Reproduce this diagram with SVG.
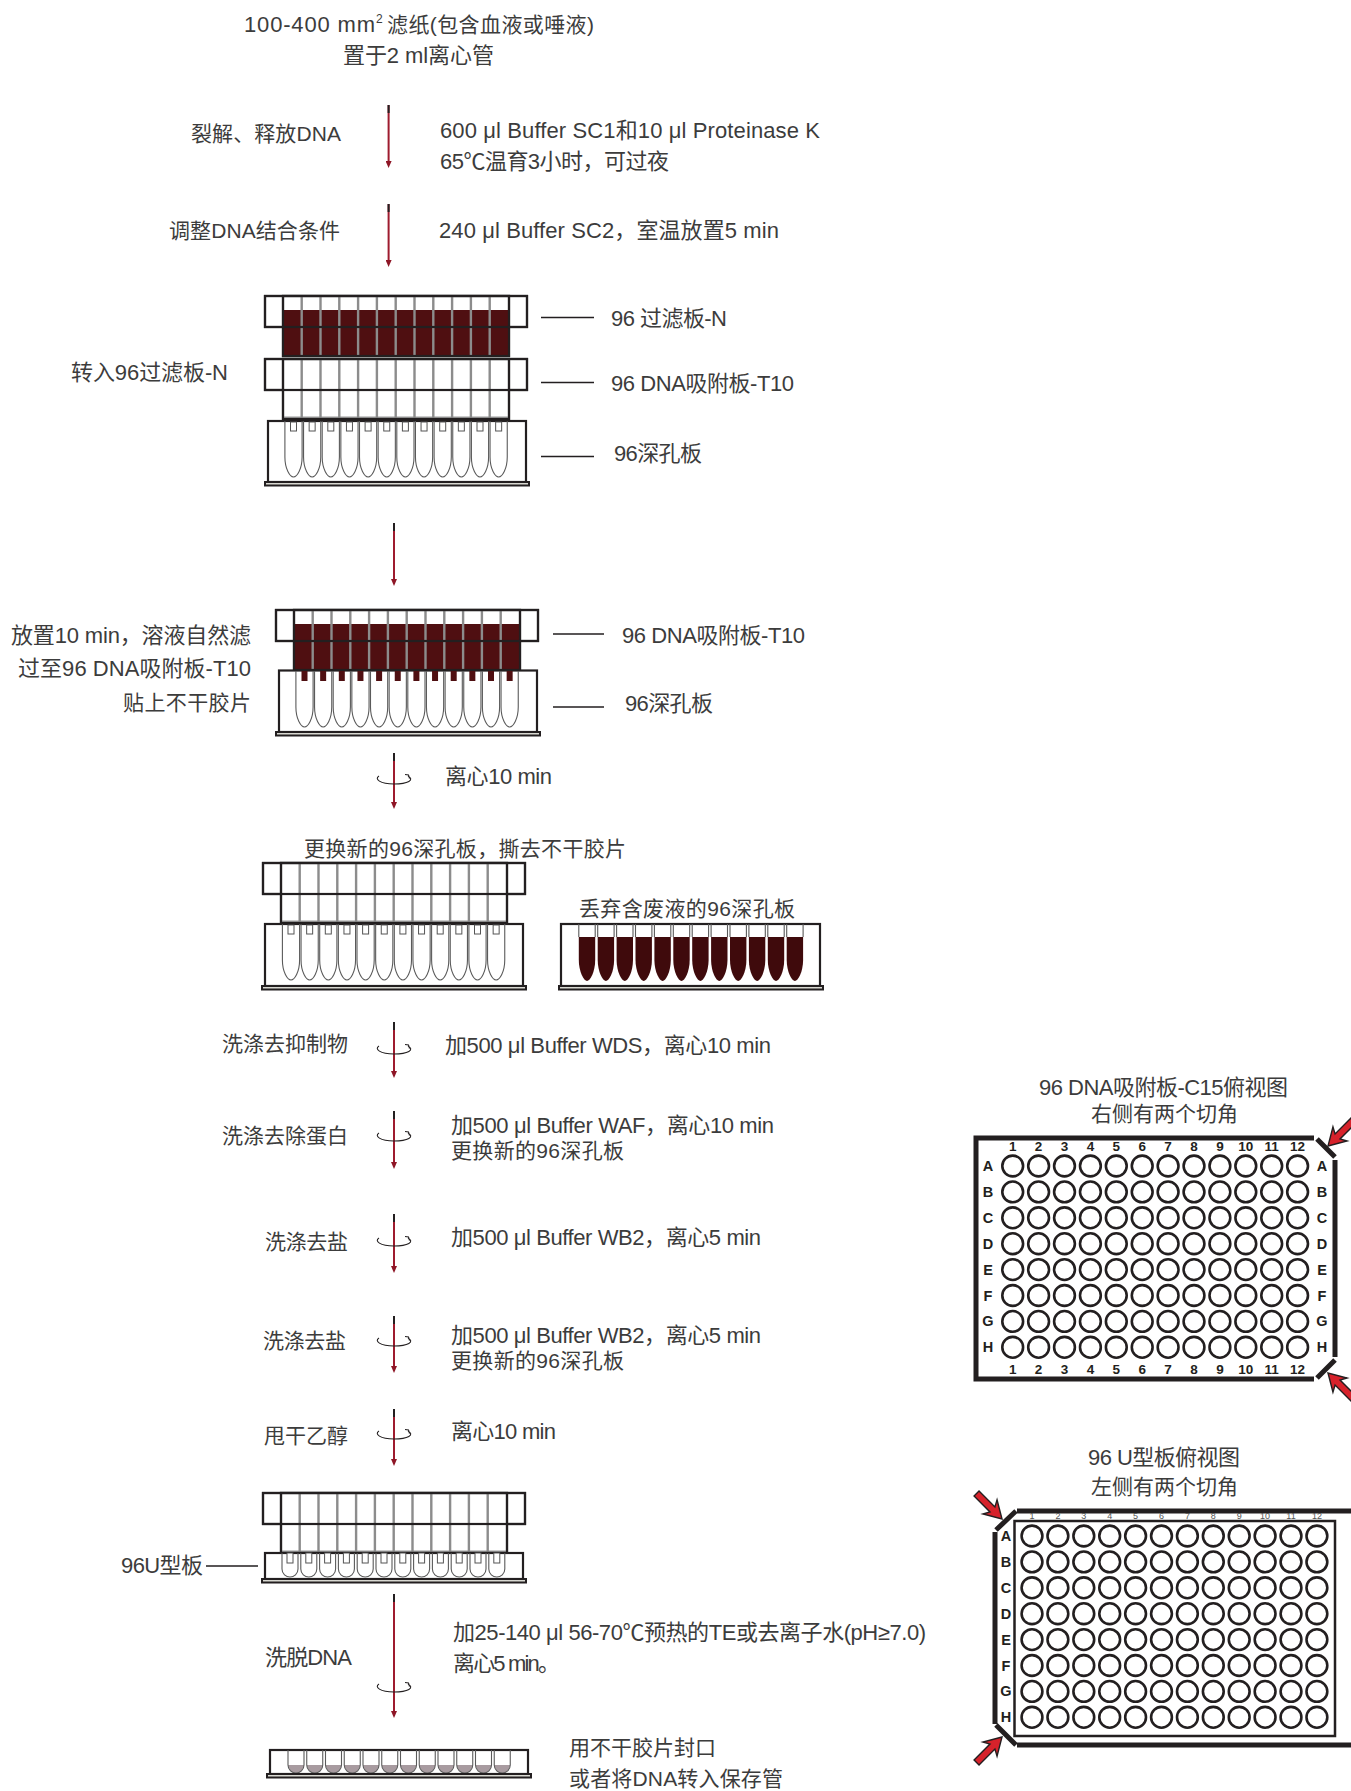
<svg xmlns="http://www.w3.org/2000/svg" width="1351" height="1791" viewBox="0 0 1351 1791">
<style>
text{font-family:"Liberation Sans","Noto Sans CJK SC",sans-serif;font-size:21px;fill:#3c3c3c}
.L{font-size:22px}
.o{fill:#fff;stroke:#231f20;stroke-width:2.2}
.n{fill:none;stroke:#231f20;stroke-width:2.2}
.b{fill:#d9d9d2;stroke:#231f20;stroke-width:2}
.d{fill:none;stroke:#8c8c8c;stroke-width:2.4}
.g{fill:none;stroke:#5a5a5a;stroke-width:1.1}
.tip{fill:#fff;stroke:#555;stroke-width:1}
.dk{fill:#4f0f11}
.flow{stroke:#9e1b2e;stroke-width:2;fill:none}
.top{stroke:#231f20;stroke-width:2;fill:none}
.lead{stroke:#231f20;stroke-width:1.4;fill:none}
.w{fill:#fff;stroke:#231f20;stroke-width:2.6}
.bd{fill:none;stroke:#231f20;stroke-width:5}
.num{font-weight:bold;font-size:13.5px;fill:#231f20;text-anchor:middle}
.let{font-weight:bold;font-size:14.5px;fill:#231f20;text-anchor:middle}
.sm{font-size:9px;fill:#555;text-anchor:middle}
.red{fill:#d7222b;stroke:#231f20;stroke-width:1.4}
</style>
<defs>
<marker id="ah" markerUnits="userSpaceOnUse" markerWidth="6" markerHeight="7" refX="3" refY="0" orient="0" viewBox="0 0 6 7"><path d="M0 0H6L3 7z" fill="#8e1626"/></marker>
<g id="divs"><path class="d" d="M36.7 0V60M55.5 0V60M74.3 0V60M93.1 0V60M111.9 0V60M130.7 0V60M149.5 0V60M168.3 0V60M187.1 0V60M205.9 0V60M224.7 0V60"/></g>
<g id="plate"><rect class="o" x="0" y="0" width="262" height="31"/><rect class="o" x="18" y="0" width="226" height="60"/><rect x="18" y="57.5" width="226" height="2.5" fill="#9a9a9a"/><use href="#divs"/><path class="n" d="M18 31H244"/><rect class="n" x="18" y="0" width="226" height="60"/><rect class="n" x="0" y="0" width="262" height="31"/></g>
<g id="plateD"><rect class="o" x="0" y="0" width="262" height="31"/><rect class="o" x="18" y="0" width="226" height="60"/><rect class="dk" x="18" y="14" width="226" height="46"/><use href="#divs"/><path class="n" d="M18 31H244"/><rect class="n" x="18" y="0" width="226" height="60"/><rect class="n" x="0" y="0" width="262" height="31"/></g>
<path id="t" class="g" d="M-8.6 0V36C-8.6 48 -3.5 56 0 56C3.5 56 8.6 48 8.6 36V0"/>
<g id="tT"><use href="#t"/><rect class="tip" x="-3" y="1" width="6" height="9"/></g>
<g id="tD"><use href="#t"/><rect class="dk" x="-3" y="0" width="6" height="10"/></g>
<g id="tF"><path d="M-8.2 13V36C-8.2 48 -3 57 0 57C3 57 8.2 48 8.2 36V13z" fill="#3f0a0c"/><path class="g" d="M-8.2 0V13M8.2 0V13"/></g>
<g id="tU"><path class="g" d="M-8 0V16C-8 21 -4 24 0 24C4 24 8 21 8 16V0"/><rect class="tip" x="-3" y="0" width="6" height="10"/></g>
<g id="tL"><path d="M-8 15C-7 20 -4 23 0 23C4 23 7 20 8 15z" fill="#a89ba0"/><path class="g" d="M-8 0V15C-8 20 -4 23 0 23C4 23 8 20 8 15V0"/></g>
<path id="spin" d="M-15 -4C-20 -1 -14 4 0 4C14 4 21 0 14 -4M11 -5.5L14.5 -5L15.5 -1.5" fill="none" stroke="#231f20" stroke-width="1.1"/>
<g id="row12"><circle class="w" cx="0" cy="0" r="10.4"/><circle class="w" cx="25.9" cy="0" r="10.4"/><circle class="w" cx="51.8" cy="0" r="10.4"/><circle class="w" cx="77.7" cy="0" r="10.4"/><circle class="w" cx="103.6" cy="0" r="10.4"/><circle class="w" cx="129.5" cy="0" r="10.4"/><circle class="w" cx="155.4" cy="0" r="10.4"/><circle class="w" cx="181.3" cy="0" r="10.4"/><circle class="w" cx="207.2" cy="0" r="10.4"/><circle class="w" cx="233.1" cy="0" r="10.4"/><circle class="w" cx="259" cy="0" r="10.4"/><circle class="w" cx="284.9" cy="0" r="10.4"/></g>
<g id="grid"><use href="#row12" y="0"/><use href="#row12" y="25.9"/><use href="#row12" y="51.8"/><use href="#row12" y="77.7"/><use href="#row12" y="103.6"/><use href="#row12" y="129.5"/><use href="#row12" y="155.4"/><use href="#row12" y="181.3"/></g>
<g id="nums"><text class="num" x="0">1</text><text class="num" x="25.9">2</text><text class="num" x="51.8">3</text><text class="num" x="77.7">4</text><text class="num" x="103.6">5</text><text class="num" x="129.5">6</text><text class="num" x="155.4">7</text><text class="num" x="181.3">8</text><text class="num" x="207.2">9</text><text class="num" x="233.1">10</text><text class="num" x="259">11</text><text class="num" x="284.9">12</text></g>
<g id="lets"><text class="let" y="0">A</text><text class="let" y="25.9">B</text><text class="let" y="51.8">C</text><text class="let" y="77.7">D</text><text class="let" y="103.6">E</text><text class="let" y="129.5">F</text><text class="let" y="155.4">G</text><text class="let" y="181.3">H</text></g>
<path id="ra" class="red" d="M0 0L-17 -10L-13.5 -3.5L-36 -3.5L-36 3.5L-13.5 3.5L-17 10z"/>
</defs>

<g id="connectors">
<path class="flow" marker-end="url(#ah)" d="M388.6 105V161"/>
<path class="flow" marker-end="url(#ah)" d="M388.6 204V260"/>
<path class="flow" marker-end="url(#ah)" d="M394 523V579"/>
<path class="flow" marker-end="url(#ah)" d="M394 753V802"/>
<path class="flow" marker-end="url(#ah)" d="M394 1022V1071"/>
<path class="flow" marker-end="url(#ah)" d="M394 1111V1162"/>
<path class="flow" marker-end="url(#ah)" d="M394 1214V1266"/>
<path class="flow" marker-end="url(#ah)" d="M394 1316V1366"/>
<path class="flow" marker-end="url(#ah)" d="M394 1409V1459"/>
<path class="flow" marker-end="url(#ah)" d="M394 1594V1711"/>
<path class="top" d="M388.6 105V113M388.6 204V212M394 523V531M394 753V761M394 1022V1030M394 1111V1119M394 1214V1222M394 1316V1324M394 1409V1417M394 1594V1602"/>
<use href="#spin" x="394" y="780"/>
<use href="#spin" x="394" y="1050"/>
<use href="#spin" x="394" y="1137"/>
<use href="#spin" x="394" y="1242"/>
<use href="#spin" x="394" y="1342"/>
<use href="#spin" x="394" y="1435"/>
<use href="#spin" x="394" y="1688"/>
<path class="lead" d="M541 317.5H594M541 382.5H594M541 456.5H594M553 634H604M553 707H604M206 1566H258"/>
</g>

<g id="step-sample">
<text class="L" x="244" y="32" textLength="131">100-400 mm</text><text x="376" y="23" style="font-size:12px">2</text><text x="387" y="32" textLength="207">滤纸(包含血液或唾液)</text>
<text class="L" x="343" y="63" textLength="151">置于2 ml离心管</text>
</g>
<g id="step-lysis">
<text x="191" y="141" textLength="150">裂解、释放DNA</text>
<text class="L" x="440" y="137.5" textLength="380">600 μl Buffer SC1和10 μl Proteinase K</text>
<text class="L" x="440" y="169" textLength="229">65℃温育3小时，可过夜</text>
</g>
<g id="step-bind">
<text x="169" y="238" textLength="171">调整DNA结合条件</text>
<text class="L" x="439" y="238" textLength="340">240 μl Buffer SC2，室温放置5 min</text>
</g>

<g id="assembly-1">
<use href="#plateD" x="265" y="296"/>
<use href="#plate" x="265" y="359"/>
<rect class="o" x="268" y="421" width="258" height="61"/>
<g transform="translate(293.5 421)"><use href="#tT" x="0"/><use href="#tT" x="18.65"/><use href="#tT" x="37.3"/><use href="#tT" x="55.95"/><use href="#tT" x="74.6"/><use href="#tT" x="93.25"/><use href="#tT" x="111.9"/><use href="#tT" x="130.55"/><use href="#tT" x="149.2"/><use href="#tT" x="167.85"/><use href="#tT" x="186.5"/><use href="#tT" x="205.15"/></g>
<rect class="b" x="265" y="482" width="264" height="3.5"/>
<text class="L" x="71" y="380" textLength="157">转入96过滤板-N</text>
<text class="L" x="611" y="326" textLength="116">96 过滤板-N</text>
<text class="L" x="611" y="391" textLength="183">96 DNA吸附板-T10</text>
<text class="L" x="614" y="461" textLength="88">96深孔板</text>
</g>

<g id="assembly-2">
<use href="#plateD" x="276" y="610"/>
<rect class="o" x="279" y="670.5" width="258" height="61.5"/>
<g transform="translate(304.5 671)"><use href="#tD" x="0"/><use href="#tD" x="18.65"/><use href="#tD" x="37.3"/><use href="#tD" x="55.95"/><use href="#tD" x="74.6"/><use href="#tD" x="93.25"/><use href="#tD" x="111.9"/><use href="#tD" x="130.55"/><use href="#tD" x="149.2"/><use href="#tD" x="167.85"/><use href="#tD" x="186.5"/><use href="#tD" x="205.15"/></g>
<rect class="b" x="276" y="732" width="264" height="3.5"/>
<text class="L" x="11" y="643" textLength="240">放置10 min，溶液自然滤</text>
<text class="L" x="18" y="676" textLength="233">过至96 DNA吸附板-T10</text>
<text x="123" y="710" textLength="128">贴上不干胶片</text>
<text class="L" x="622" y="643" textLength="183">96 DNA吸附板-T10</text>
<text class="L" x="625" y="711" textLength="88">96深孔板</text>
<text class="L" x="445" y="784" textLength="107">离心10 min</text>
</g>

<g id="assembly-3">
<text x="304" y="856" textLength="322">更换新的96深孔板，撕去不干胶片</text>
<use href="#plate" x="263" y="863"/>
<rect class="o" x="265" y="924" width="258" height="62"/>
<g transform="translate(291 924)"><use href="#tT" x="0"/><use href="#tT" x="18.65"/><use href="#tT" x="37.3"/><use href="#tT" x="55.95"/><use href="#tT" x="74.6"/><use href="#tT" x="93.25"/><use href="#tT" x="111.9"/><use href="#tT" x="130.55"/><use href="#tT" x="149.2"/><use href="#tT" x="167.85"/><use href="#tT" x="186.5"/><use href="#tT" x="205.15"/></g>
<rect class="b" x="262" y="986" width="264" height="3.5"/>
</g>
<g id="waste-plate">
<text x="579" y="916" textLength="216">丢弃含废液的96深孔板</text>
<rect class="o" x="561" y="924" width="259" height="62"/>
<g transform="translate(587 924)"><use href="#tF" x="0"/><use href="#tF" x="18.9"/><use href="#tF" x="37.8"/><use href="#tF" x="56.7"/><use href="#tF" x="75.6"/><use href="#tF" x="94.5"/><use href="#tF" x="113.4"/><use href="#tF" x="132.3"/><use href="#tF" x="151.2"/><use href="#tF" x="170.1"/><use href="#tF" x="189"/><use href="#tF" x="207.9"/></g>
<rect class="b" x="559" y="986" width="264" height="3.5"/>
</g>

<g id="step-wash">
<text x="222" y="1051" textLength="126">洗涤去抑制物</text>
<text class="L" x="445" y="1053" textLength="326">加500 μl Buffer WDS，离心10 min</text>
<text x="222" y="1143" textLength="126">洗涤去除蛋白</text>
<text class="L" x="451" y="1133" textLength="323">加500 μl Buffer WAF，离心10 min</text>
<text x="451" y="1158" textLength="173">更换新的96深孔板</text>
<text x="265" y="1249" textLength="83">洗涤去盐</text>
<text class="L" x="451" y="1245" textLength="310">加500 μl Buffer WB2，离心5 min</text>
<text x="263" y="1348" textLength="83">洗涤去盐</text>
<text class="L" x="451" y="1343" textLength="310">加500 μl Buffer WB2，离心5 min</text>
<text x="451" y="1368" textLength="173">更换新的96深孔板</text>
<text x="264" y="1443" textLength="84">甩干乙醇</text>
<text class="L" x="451" y="1439" textLength="105">离心10 min</text>
</g>

<g id="assembly-4">
<use href="#plate" x="263" y="1493"/>
<rect class="o" x="265" y="1553" width="258" height="26"/>
<g transform="translate(290 1553)"><use href="#tU" x="0"/><use href="#tU" x="18.8"/><use href="#tU" x="37.6"/><use href="#tU" x="56.4"/><use href="#tU" x="75.2"/><use href="#tU" x="94"/><use href="#tU" x="112.8"/><use href="#tU" x="131.6"/><use href="#tU" x="150.4"/><use href="#tU" x="169.2"/><use href="#tU" x="188"/><use href="#tU" x="206.8"/></g>
<rect class="b" x="262" y="1579" width="264" height="3.5"/>
<text class="L" x="121" y="1573" textLength="82">96U型板</text>
<text class="L" x="265" y="1665" textLength="87">洗脱DNA</text>
<text class="L" x="453" y="1640" textLength="473">加25-140 μl 56-70℃预热的TE或去离子水(pH≥7.0)</text>
<text class="L" x="453" y="1671" textLength="107">离心5 min。</text>
</g>

<g id="final-plate">
<rect class="o" x="270" y="1750" width="258" height="24"/>
<g transform="translate(296 1750)"><use href="#tL" x="0"/><use href="#tL" x="18.75"/><use href="#tL" x="37.5"/><use href="#tL" x="56.25"/><use href="#tL" x="75"/><use href="#tL" x="93.75"/><use href="#tL" x="112.5"/><use href="#tL" x="131.25"/><use href="#tL" x="150"/><use href="#tL" x="168.75"/><use href="#tL" x="187.5"/><use href="#tL" x="206.25"/></g>
<rect class="b" x="267" y="1774" width="264" height="3.5"/>
<text x="569" y="1755" textLength="147">用不干胶片封口</text>
<text x="569" y="1786" textLength="214">或者将DNA转入保存管</text>
</g>

<g id="plate-c15">
<text class="L" x="1039" y="1095" textLength="249">96 DNA吸附板-C15俯视图</text>
<text x="1091" y="1121" textLength="147">右侧有两个切角</text>
<path class="bd" d="M1314 1138H976V1379H1314M1317 1139L1335 1157M1335 1160V1357M1335 1360L1317 1378"/>
<use href="#grid" x="1012.7" y="1166"/>
<use href="#nums" x="1012.7" y="1151"/>
<use href="#nums" x="1012.7" y="1374"/>
<use href="#lets" x="988" y="1171"/>
<use href="#lets" x="1322" y="1171"/>
<use href="#ra" transform="translate(1328 1146) rotate(135)"/>
<use href="#ra" transform="translate(1328 1373) rotate(225)"/>
</g>

<g id="plate-u">
<text class="L" x="1088" y="1465" textLength="152">96 U型板俯视图</text>
<text x="1091" y="1494" textLength="147">左侧有两个切角</text>
<path class="bd" d="M1017 1511H1351M1016 1511L996 1530M995 1532V1724M996 1725L1016 1745M1017 1745H1351"/>
<rect x="1014.5" y="1521" width="320.5" height="215" fill="none" stroke="#231f20" stroke-width="2.5"/>
<use href="#grid" x="1032" y="1536"/>
<g transform="translate(1032 1519)"><text class="sm" x="0">1</text><text class="sm" x="25.9">2</text><text class="sm" x="51.8">3</text><text class="sm" x="77.7">4</text><text class="sm" x="103.6">5</text><text class="sm" x="129.5">6</text><text class="sm" x="155.4">7</text><text class="sm" x="181.3">8</text><text class="sm" x="207.2">9</text><text class="sm" x="233.1">10</text><text class="sm" x="259">11</text><text class="sm" x="284.9">12</text></g>
<use href="#lets" x="1006" y="1541"/>
<use href="#ra" transform="translate(1002 1519) rotate(45)"/>
<use href="#ra" transform="translate(1002 1737) rotate(-45)"/>
</g>
</svg>
